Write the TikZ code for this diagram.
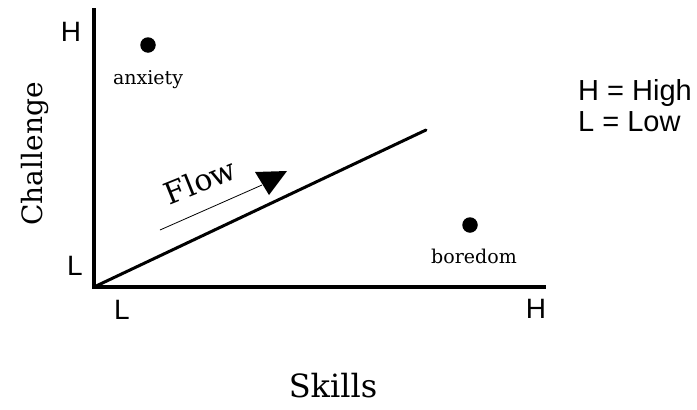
\documentclass[tikz,border=0pt]{standalone}
\usepackage{fontspec}
\setmainfont{DejaVu Serif}
\newfontfamily\labsans{Liberation Sans}
\begin{document}
\begin{tikzpicture}[x=1pt,y=-1pt,
  axisline/.style={line width=3.6pt},
  sanslab/.style={inner sep=0pt,font=\labsans\fontsize{28}{32}\selectfont},
  legendlab/.style={inner sep=0pt,font=\labsans\fontsize{29}{33}\selectfont},
  seriflab/.style={inner sep=0pt,font=\fontsize{19}{23}\selectfont},
  dotmark/.style={circle,fill=black,inner sep=0pt,minimum size=15.5pt}]
\useasboundingbox (0,0) rectangle (697,410);
% axes
\coordinate (O) at (94,287);
\coordinate (Ytop) at (94,8);
\coordinate (Xend) at (546,287);
\coordinate (Dend) at (426,130);
\draw[axisline] (Ytop) -- (O.center) -- (Xend);
\draw[line width=3pt,line cap=round] (O) -- (Dend);
% axis tick labels
\node[sanslab] (yH) at (71,32) {H};
\node[sanslab] (yL) at (75,266) {L};
\node[sanslab] (xL) at (122,310) {L};
\node[sanslab] (xH) at (536,309) {H};
% legend
\node[legendlab,anchor=base west] (leg1) at (578,100) {H = High};
\node[legendlab,anchor=base west] (leg2) at (578,131) {L = Low};
% axis titles
\node[inner sep=0pt,font=\fontsize{28}{32}\selectfont,rotate=90,anchor=base] (ch) at (42,154) {Challenge};
\node[inner sep=0pt,font=\fontsize{32}{36}\selectfont,anchor=base] (sk) at (333,397) {Skills};
% points
\node[dotmark] (anx) at (148,45) {};
\node[seriflab,anchor=base] (anxl) at (148,84) {anxiety};
\node[dotmark] (bor) at (470,225) {};
\node[seriflab,anchor=base] (borl) at (474,263) {boredom};
% flow
\node[inner sep=0pt,font=\fontsize{30}{34}\selectfont,rotate=22] (flow) at (200,181) {Flow};
\coordinate (fs) at (160,230);
\coordinate (fe) at (262,185);
\draw[line width=0.8pt] (fs) -- (fe);
\fill (255,172) -- (287,171) -- (269,195) -- cycle;
\end{tikzpicture}
\end{document}
